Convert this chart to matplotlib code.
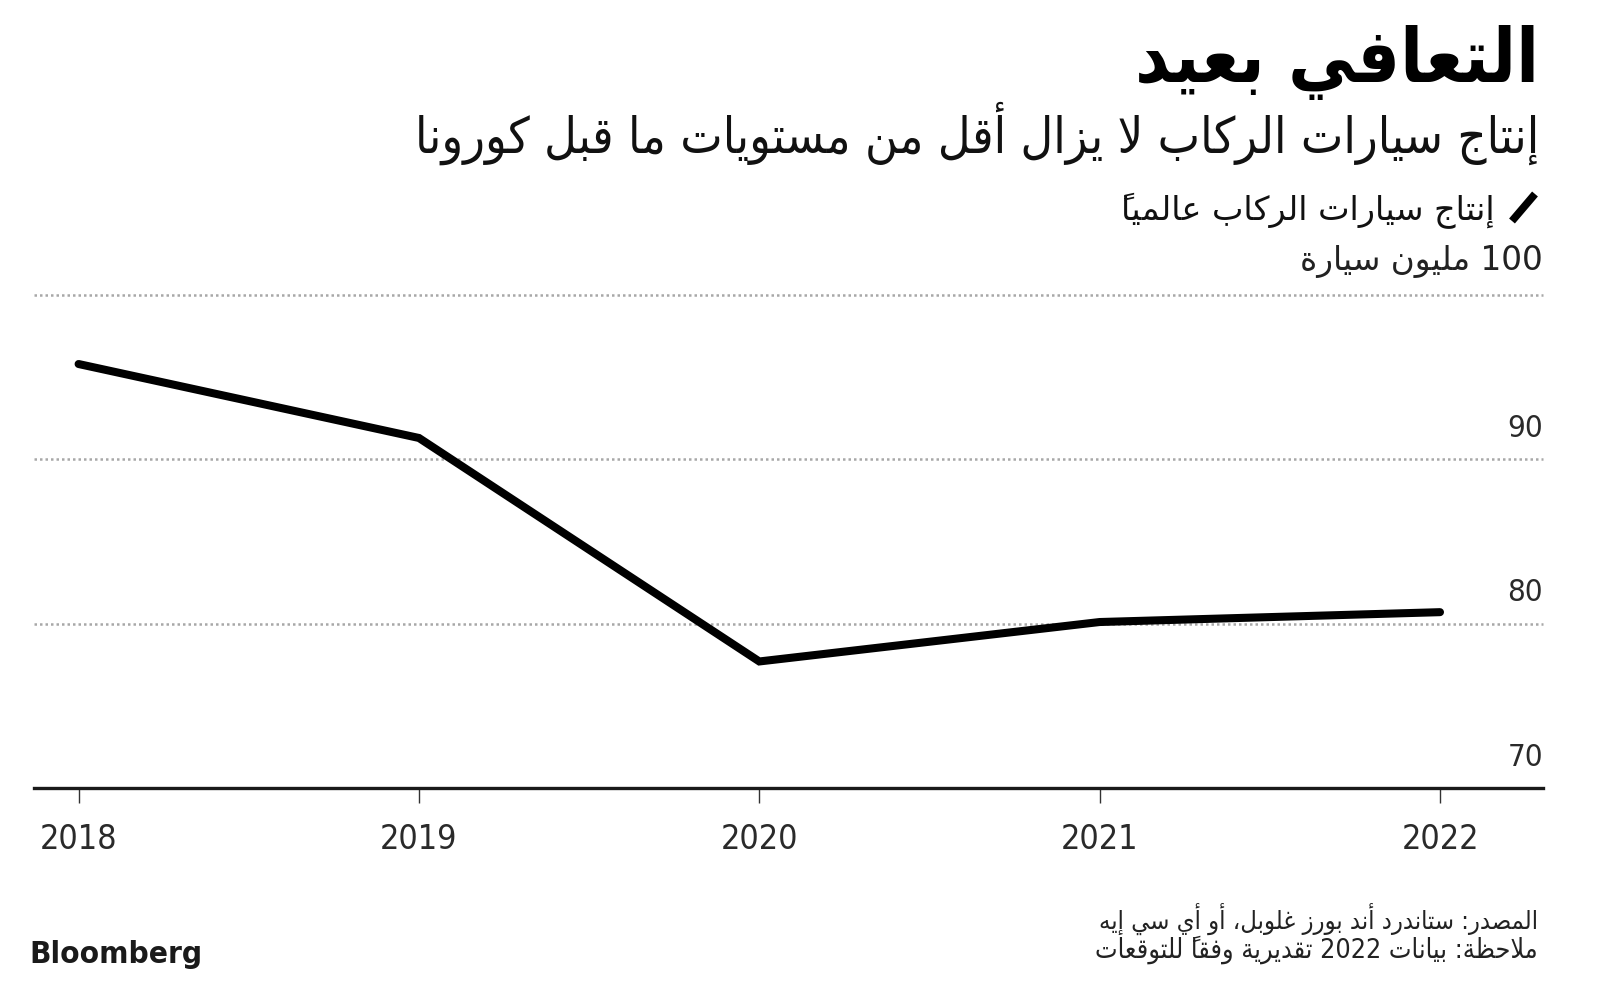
import matplotlib
matplotlib.use("Agg")
import matplotlib.pyplot as plt
from matplotlib.transforms import blended_transform_factory, ScaledTranslation
from matplotlib.lines import Line2D

# ---------------- data ----------------
years = [2018, 2019, 2020, 2021, 2022]
production = [95.8, 91.3, 77.7, 80.1, 80.7]
x_labels = ["2018", "2019", "2020", "2021", "2022"]
grid_values = [80, 90, 100]
ytick_values = [70, 80, 90]
ytick_labels = ["70", "80", "90"]

title = "التعافي بعيد"
subtitle = "إنتاج سيارات الركاب لا يزال أقل من مستويات ما قبل كورونا"
legend_label = "إنتاج سيارات الركاب عالمياً"
unit_label = "100 مليون سيارة"
source = "المصدر: ستاندرد أند بورز غلوبل، أو أي سي إيه"
note = "ملاحظة: بيانات 2022 تقديرية وفقاً للتوقعات"
brand = "Bloomberg"

# ---------------- minimal Arabic shaping + RTL ordering ----------------
FORMS = {
    "ء": ("\uFE80", None, None, None),
    "آ": ("\uFE81", "\uFE82", None, None),
    "أ": ("\uFE83", "\uFE84", None, None),
    "ؤ": ("\uFE85", "\uFE86", None, None),
    "إ": ("\uFE87", "\uFE88", None, None),
    "ئ": ("\uFE89", "\uFE8A", "\uFE8B", "\uFE8C"),
    "ا": ("\uFE8D", "\uFE8E", None, None),
    "ب": ("\uFE8F", "\uFE90", "\uFE91", "\uFE92"),
    "ة": ("\uFE93", "\uFE94", None, None),
    "ت": ("\uFE95", "\uFE96", "\uFE97", "\uFE98"),
    "ث": ("\uFE99", "\uFE9A", "\uFE9B", "\uFE9C"),
    "ج": ("\uFE9D", "\uFE9E", "\uFE9F", "\uFEA0"),
    "ح": ("\uFEA1", "\uFEA2", "\uFEA3", "\uFEA4"),
    "خ": ("\uFEA5", "\uFEA6", "\uFEA7", "\uFEA8"),
    "د": ("\uFEA9", "\uFEAA", None, None),
    "ذ": ("\uFEAB", "\uFEAC", None, None),
    "ر": ("\uFEAD", "\uFEAE", None, None),
    "ز": ("\uFEAF", "\uFEB0", None, None),
    "س": ("\uFEB1", "\uFEB2", "\uFEB3", "\uFEB4"),
    "ش": ("\uFEB5", "\uFEB6", "\uFEB7", "\uFEB8"),
    "ص": ("\uFEB9", "\uFEBA", "\uFEBB", "\uFEBC"),
    "ض": ("\uFEBD", "\uFEBE", "\uFEBF", "\uFEC0"),
    "ط": ("\uFEC1", "\uFEC2", "\uFEC3", "\uFEC4"),
    "ظ": ("\uFEC5", "\uFEC6", "\uFEC7", "\uFEC8"),
    "ع": ("\uFEC9", "\uFECA", "\uFECB", "\uFECC"),
    "غ": ("\uFECD", "\uFECE", "\uFECF", "\uFED0"),
    "ف": ("\uFED1", "\uFED2", "\uFED3", "\uFED4"),
    "ق": ("\uFED5", "\uFED6", "\uFED7", "\uFED8"),
    "ك": ("\uFED9", "\uFEDA", "\uFEDB", "\uFEDC"),
    "ل": ("\uFEDD", "\uFEDE", "\uFEDF", "\uFEE0"),
    "م": ("\uFEE1", "\uFEE2", "\uFEE3", "\uFEE4"),
    "ن": ("\uFEE5", "\uFEE6", "\uFEE7", "\uFEE8"),
    "ه": ("\uFEE9", "\uFEEA", "\uFEEB", "\uFEEC"),
    "و": ("\uFEED", "\uFEEE", None, None),
    "ى": ("\uFEEF", "\uFEF0", None, None),
    "ي": ("\uFEF1", "\uFEF2", "\uFEF3", "\uFEF4"),
}
LAMALEF = {"آ": ("\uFEF5", "\uFEF6"), "أ": ("\uFEF7", "\uFEF8"),
           "إ": ("\uFEF9", "\uFEFA"), "ا": ("\uFEFB", "\uFEFC")}
MARKS = set("\u064B\u064C\u064D\u064E\u064F\u0650\u0651\u0652")


def _joins_next(c):
    return c in FORMS and FORMS[c][2] is not None


def rtl(s):
    toks = []
    for c in s:
        if c in MARKS and toks:
            toks[-1][1] += c
        else:
            toks.append([c, ""])
    merged = []
    j = 0
    while j < len(toks):
        c, m = toks[j]
        if c == "ل" and j + 1 < len(toks) and toks[j + 1][0] in LAMALEF:
            merged.append(["LA" + toks[j + 1][0], m + toks[j + 1][1]])
            j += 2
        else:
            merged.append([c, m])
            j += 1
    shaped = []
    for k, (c, m) in enumerate(merged):
        prev_j = k > 0 and _joins_next(merged[k - 1][0])
        if c.startswith("LA"):
            g = LAMALEF[c[2]][1 if prev_j else 0]
        elif c in FORMS:
            nxt = merged[k + 1][0] if k + 1 < len(merged) else ""
            next_ok = nxt in FORMS or nxt.startswith("LA")
            nj = FORMS[c][2] is not None and next_ok
            iso, fin, ini, med = FORMS[c]
            if prev_j and nj:
                g = med
            elif prev_j:
                g = fin
            elif nj:
                g = ini
            else:
                g = iso
        else:
            g = c
        # mark placed before its base in visual (left-to-right) order
        shaped.append((c, m + g))
    runs = []
    for c, g in shaped:
        ltr = c.isascii() and c.isalnum()
        if ltr and runs and runs[-1][0]:
            runs[-1][1].append(g)
        else:
            runs.append([ltr, [g]])
    out = []
    for ltr, gs in reversed(runs):
        out.extend(gs if ltr else reversed(gs))
    return "".join(out)


# ---------------- figure ----------------
W, H = 1600, 986
fig = plt.figure(figsize=(W / 100, H / 100), dpi=100)
fig.patch.set_facecolor("white")

def fx(px):
    return px / W

def fy(py):
    return 1 - py / H

renderer = fig.canvas.get_renderer()

def fit_text(x, y, s, target_w, ha="right", va="baseline", base=20, **kw):
    t = fig.text(fx(x), fy(y), s, ha=ha, va=va, fontsize=base, **kw)
    w = t.get_window_extent(renderer).width
    t.set_fontsize(base * target_w / w)
    return t

# axes
ax_l, ax_r, ax_b, ax_t = 34, 1543, 788, 295
ax = fig.add_axes([fx(ax_l), fy(ax_b), (ax_r - ax_l) / W, (ax_b - ax_t) / H])
ax.set_facecolor("none")
ax.set_ylim(70, 100)
px_per_year = 340.35
x0 = years[0] - (78.6 - ax_l) / px_per_year
x1 = years[-1] + (ax_r - 1440) / px_per_year
ax.set_xlim(x0, x1)

for v in grid_values:
    ax.axhline(v, color="#a8a8a8", lw=1.8, linestyle=(0, (1.0, 1.2)), clip_on=False, zorder=1)

ax.plot(years, production, color="black", lw=5.8, solid_capstyle="round",
        solid_joinstyle="miter", zorder=3, clip_on=False)

for s in ["left", "right", "top"]:
    ax.spines[s].set_visible(False)
ax.spines["bottom"].set_linewidth(2.4)
ax.spines["bottom"].set_color("#1a1a1a")
ax.spines["bottom"].set_zorder(4)

ax.set_yticks([])
ax.set_xticks(years)
ax.set_xticklabels(x_labels, fontfamily="DejaVu Sans", fontstretch="condensed",
                   fontsize=24.5, color="#2a2a2a")
ax.tick_params(axis="x", direction="out", length=11, width=1.0, color="#333333", pad=14)

# y tick labels above the grid lines, right aligned
trans = blended_transform_factory(ax.transAxes, ax.transData) + \
    ScaledTranslation(0, 31 / 100, fig.dpi_scale_trans)
for v, lab in zip(ytick_values, ytick_labels):
    ax.text(1.0, v, lab, transform=trans, ha="right", va="center",
            fontfamily="DejaVu Sans", fontstretch="condensed", fontsize=22.5,
            color="#2a2a2a")

# ---------------- texts ----------------
fit_text(1539, 82, rtl(title), 404, fontfamily="DejaVu Sans", fontweight="bold",
         fontstretch="condensed", color="black")
fit_text(1539, 153, rtl(subtitle), 1123, fontfamily="DejaVu Sans",
         fontstretch="condensed", color="#111111")
fit_text(1495, 220, rtl(legend_label), 373, fontfamily="DejaVu Sans", color="#111111")
fig.add_artist(Line2D([fx(1512), fx(1535)], [fy(221), fy(194)], color="black",
                      lw=5.5, solid_capstyle="butt"))
fit_text(1543, 270, rtl(unit_label), 242, fontfamily="DejaVu Sans", color="#222222")

fit_text(1538, 929, rtl(source), 438, fontfamily="DejaVu Sans",
         fontstretch="condensed", color="#222222")
fit_text(1538, 958, rtl(note), 441, fontfamily="DejaVu Sans",
         fontstretch="condensed", color="#222222")
fit_text(29, 963, brand, 173, ha="left", fontfamily="DejaVu Sans", fontweight="bold",
         fontstretch="condensed", color="#1a1a1a")

fig.savefig("out.png", dpi=100, facecolor="white")
